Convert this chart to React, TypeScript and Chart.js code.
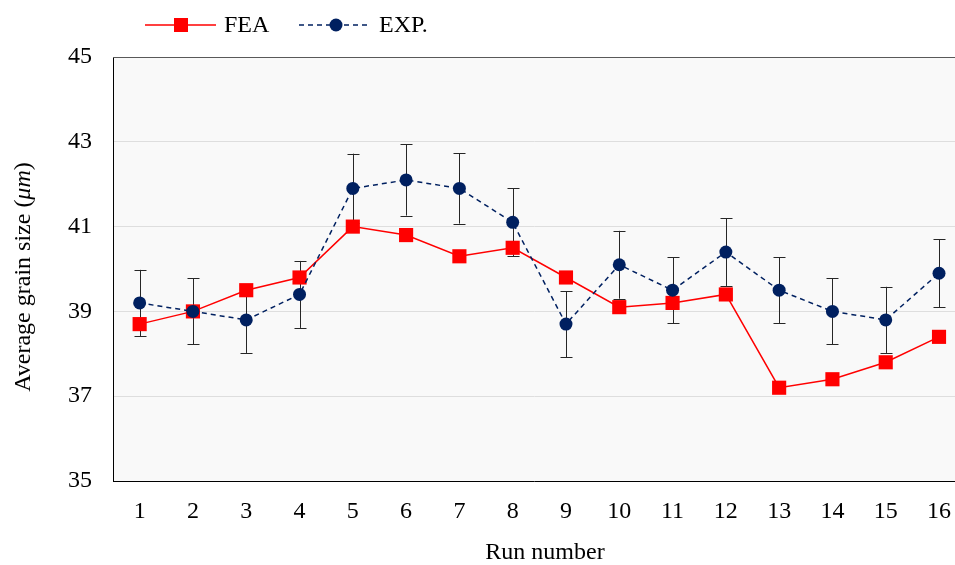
import React, { useEffect, useRef } from "react";
import { Chart, registerables } from "chart.js";

Chart.register(...registerables);

const runs = [1, 2, 3, 4, 5, 6, 7, 8, 9, 10, 11, 12, 13, 14, 15, 16];
const feaValues = [38.7, 39.0, 39.5, 39.8, 41.0, 40.8, 40.3, 40.5, 39.8, 39.1, 39.2, 39.4, 37.2, 37.4, 37.8, 38.4];
const expValues = [39.2, 39.0, 38.8, 39.4, 41.9, 42.1, 41.9, 41.1, 38.7, 40.1, 39.5, 40.4, 39.5, 39.0, 38.8, 39.9];
const expErrors = [0.78, 0.78, 0.78, 0.79, 0.82, 0.84, 0.83, 0.8, 0.78, 0.8, 0.78, 0.8, 0.78, 0.78, 0.78, 0.8];
const yTicks = [35, 37, 39, 41, 43, 45];
const seriesNames = ["FEA", "EXP."];
const xTitle = "Run number";
const yTitleMain = "Average grain size (";
const yTitleItalic = "μm";
const yTitleEnd = ")";

const FONT = "'Liberation Serif', 'Times New Roman', serif";
const FS = 24;
const RED = "#ff0000";
const NAVY = "#002060";

const plotPlugin = {
  id: "plotDecor",
  beforeDraw(chart: any) {
    const { ctx, chartArea } = chart;
    ctx.save();
    ctx.fillStyle = "#f9f9f9";
    ctx.fillRect(chartArea.left, chartArea.top, chartArea.right - chartArea.left, chartArea.bottom - chartArea.top);
    ctx.restore();
  },
  afterDraw(chart: any) {
    const { ctx, chartArea } = chart;
    ctx.save();
    // top frame
    ctx.strokeStyle = "#595959";
    ctx.lineWidth = 1;
    ctx.beginPath();
    ctx.moveTo(chartArea.left, chartArea.top + 0.5);
    ctx.lineTo(chartArea.right, chartArea.top + 0.5);
    ctx.stroke();

    // legend
    const ly = 25;
    ctx.strokeStyle = RED;
    ctx.lineWidth = 1.5;
    ctx.beginPath();
    ctx.moveTo(145, ly);
    ctx.lineTo(216, ly);
    ctx.stroke();
    ctx.fillStyle = RED;
    ctx.fillRect(181 - 7, ly - 7, 14, 14);
    ctx.fillStyle = "#000";
    ctx.font = `${FS}px ${FONT}`;
    ctx.textBaseline = "middle";
    ctx.textAlign = "left";
    ctx.fillText(seriesNames[0], 224, ly + 1);

    ctx.strokeStyle = NAVY;
    ctx.setLineDash([5, 4]);
    ctx.beginPath();
    ctx.moveTo(299, ly);
    ctx.lineTo(370, ly);
    ctx.stroke();
    ctx.setLineDash([]);
    ctx.fillStyle = NAVY;
    ctx.beginPath();
    ctx.arc(336, ly, 6.5, 0, Math.PI * 2);
    ctx.fill();
    ctx.fillStyle = "#000";
    ctx.fillText(seriesNames[1], 379, ly + 1);

    // x title
    ctx.textAlign = "center";
    ctx.fillText(xTitle, 545, 553);

    // y title
    ctx.save();
    ctx.translate(24, 277);
    ctx.rotate(-Math.PI / 2);
    ctx.textAlign = "left";
    const fN = `${FS}px ${FONT}`;
    const fI = `italic ${FS}px ${FONT}`;
    ctx.font = fN;
    const w1 = ctx.measureText(yTitleMain).width;
    const w3 = ctx.measureText(yTitleEnd).width;
    ctx.font = fI;
    const w2 = ctx.measureText(yTitleItalic).width;
    const x0 = -(w1 + w2 + w3) / 2;
    ctx.font = fN;
    ctx.fillText(yTitleMain, x0, 0);
    ctx.font = fI;
    ctx.fillText(yTitleItalic, x0 + w1, 0);
    ctx.font = fN;
    ctx.fillText(yTitleEnd, x0 + w1 + w2, 0);
    ctx.restore();

    ctx.restore();
  },
  beforeDatasetsDraw(chart: any) {
    const { ctx } = chart;
    const xs = chart.scales.x;
    const ys = chart.scales.y;
    ctx.save();
    ctx.strokeStyle = "#262626";
    ctx.lineWidth = 1;
    runs.forEach((r, i) => {
      const x = Math.round(xs.getPixelForValue(r)) + 0.5;
      const yt = ys.getPixelForValue(expValues[i] + expErrors[i]);
      const yb = ys.getPixelForValue(expValues[i] - expErrors[i]);
      ctx.beginPath();
      ctx.moveTo(x, yt);
      ctx.lineTo(x, yb);
      ctx.moveTo(x - 6, Math.round(yt) + 0.5);
      ctx.lineTo(x + 6, Math.round(yt) + 0.5);
      ctx.moveTo(x - 6, Math.round(yb) + 0.5);
      ctx.lineTo(x + 6, Math.round(yb) + 0.5);
      ctx.stroke();
    });
    ctx.restore();
  },
};

export default function App() {
  const ref = useRef<HTMLCanvasElement | null>(null);
  useEffect(() => {
    if (!ref.current) return;
    const chart = new Chart(ref.current, {
      type: "line",
      data: {
        datasets: [
          {
            label: seriesNames[0],
            data: runs.map((r, i) => ({ x: r, y: feaValues[i] })),
            borderColor: RED,
            backgroundColor: RED,
            borderWidth: 1.5,
            pointStyle: "rect",
            pointRadius: 10,
            pointBorderWidth: 0,
            pointHoverRadius: 10,
            tension: 0,
            order: 2,
          },
          {
            label: seriesNames[1],
            data: runs.map((r, i) => ({ x: r, y: expValues[i] })),
            borderColor: NAVY,
            backgroundColor: NAVY,
            borderWidth: 1.5,
            borderDash: [5, 4],
            pointStyle: "circle",
            pointRadius: 6.5,
            pointBorderWidth: 0,
            pointHoverRadius: 6.5,
            tension: 0,
            order: 1,
          },
        ],
      },
      options: {
        animation: false,
        responsive: false,
        maintainAspectRatio: false,
        layout: { autoPadding: false, padding: { top: 57, right: 0, left: 0, bottom: 0 } },
        plugins: { legend: { display: false }, tooltip: { enabled: false } },
        scales: {
          x: {
            type: "linear",
            min: 0.5,
            max: 16.3,
            afterBuildTicks: (scale: any) => {
              scale.ticks = runs.map((v) => ({ value: v }));
            },
            afterFit: (scale: any) => {
              scale.height = 84;
              scale.paddingLeft = 0;
              scale.paddingRight = 0;
            },
            grid: { display: false, drawTicks: false },
            border: { display: true, color: "#000", width: 1 },
            ticks: {
              autoSkip: false,
              maxRotation: 0,
              padding: 16,
              color: "#000",
              font: { family: FONT, size: FS },
              callback: (v: any) => String(v),
            },
          },
          y: {
            min: 35,
            max: 45,
            afterBuildTicks: (scale: any) => {
              scale.ticks = yTicks.map((v) => ({ value: v }));
            },
            afterFit: (scale: any) => {
              scale.width = 113;
              scale.paddingTop = 0;
              scale.paddingBottom = 0;
            },
            grid: { color: "#dedede", lineWidth: 1, drawTicks: false },
            border: { display: true, color: "#000", width: 1 },
            ticks: {
              padding: 21,
              color: "#000",
              font: { family: FONT, size: FS },
              callback: (v: any) => String(v),
            },
          },
        },
      },
      plugins: [plotPlugin],
    } as any);
    return () => chart.destroy();
  }, []);
  return (
    <div style={{ position: "fixed", left: 0, top: 0, width: 955, height: 565, background: "#fff" }}>
      <canvas ref={ref} width={955} height={565} style={{ width: 955, height: 565 }} />
    </div>
  );
}
